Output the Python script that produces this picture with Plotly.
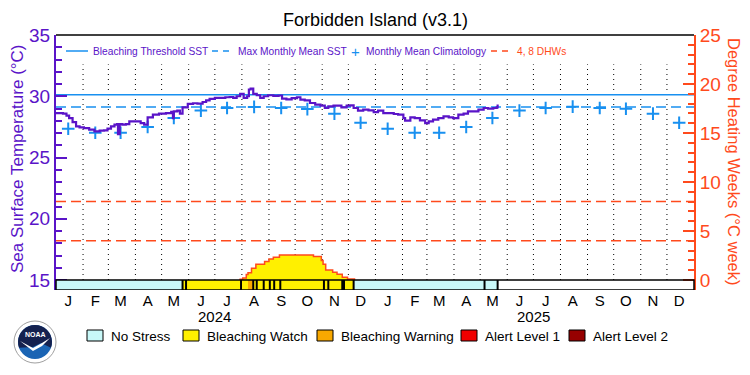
import math
import plotly.graph_objects as go

# ---------------- data ----------------
title_text = "Forbidden Island (v3.1)"

sst_dates = [
    "2024-01-01", "2024-01-09", "2024-01-13", "2024-01-16", "2024-01-20", "2024-01-24", "2024-01-28",
    "2024-02-02", "2024-02-08", "2024-02-14", "2024-02-20", "2024-02-25", "2024-02-29",
    "2024-03-04", "2024-03-08", "2024-03-11", "2024-03-12", "2024-03-14", "2024-03-17", "2024-03-21", "2024-03-25",
    "2024-04-02", "2024-04-07", "2024-04-11", "2024-04-15", "2024-04-21", "2024-04-28",
    "2024-05-06", "2024-05-12", "2024-05-14", "2024-05-15", "2024-05-19", "2024-05-22", "2024-05-25", "2024-05-31",
    "2024-06-06", "2024-06-11", "2024-06-17", "2024-06-21", "2024-06-25",
    "2024-07-01", "2024-07-07", "2024-07-13", "2024-07-18", "2024-07-22", "2024-07-26", "2024-07-30",
    "2024-08-03", "2024-08-07", "2024-08-09", "2024-08-11", "2024-08-14", "2024-08-18", "2024-08-22", "2024-08-26", "2024-08-31",
    "2024-09-06", "2024-09-12", "2024-09-16", "2024-09-21", "2024-09-27",
    "2024-10-03", "2024-10-07", "2024-10-12", "2024-10-18", "2024-10-24", "2024-10-30",
    "2024-11-04", "2024-11-08", "2024-11-14", "2024-11-19", "2024-11-23", "2024-11-29",
    "2024-12-03", "2024-12-07", "2024-12-12", "2024-12-18", "2024-12-24", "2024-12-30",
    "2025-01-04", "2025-01-10", "2025-01-16", "2025-01-22", "2025-01-27",
    "2025-02-02", "2025-02-04", "2025-02-10", "2025-02-15", "2025-02-21", "2025-02-27",
    "2025-03-03", "2025-03-08", "2025-03-14", "2025-03-20", "2025-03-26", "2025-03-31",
    "2025-04-06", "2025-04-12", "2025-04-17", "2025-04-23", "2025-04-29",
    "2025-05-05", "2025-05-10", "2025-05-16", "2025-05-20", "2025-05-21",
]
sst_values = [
    28.63, 28.58, 28.42, 28.22, 27.89, 27.54, 27.46,
    27.40, 27.27, 27.13, 27.19, 27.21, 27.35,
    27.54, 27.68, 27.73, 26.91, 27.73, 27.68, 27.73, 27.95,
    27.95, 27.81, 27.68, 28.28, 28.50, 28.58,
    28.63, 28.72, 28.22, 28.77, 28.82, 28.58, 29.10, 29.37,
    29.43, 29.40, 29.53, 29.67, 29.78,
    29.86, 29.86, 29.92, 29.94, 29.86, 30.00, 30.19,
    29.86, 30.00, 30.55, 30.63, 30.19, 30.08, 29.86, 30.00, 30.08,
    30.03, 30.06, 29.81, 29.75, 29.84,
    29.92, 29.73, 29.67, 29.45, 29.32, 29.24,
    29.04, 29.18, 29.24, 29.24, 29.10, 29.24,
    29.26, 29.04, 28.83, 28.91, 28.85, 28.71,
    28.83, 28.63, 28.63, 28.55, 28.50,
    28.22, 28.01, 28.28, 28.22, 28.03, 27.81,
    27.95, 28.09, 28.22, 28.36, 28.28, 28.22,
    28.50, 28.58, 28.77, 28.77, 28.91,
    29.04, 28.99, 29.04, 29.10, 29.32,
]

clim_dates = [
    "2024-01-15", "2024-02-15", "2024-03-15", "2024-04-15", "2024-05-15", "2024-06-15",
    "2024-07-15", "2024-08-15", "2024-09-15", "2024-10-15", "2024-11-15", "2024-12-15",
    "2025-01-15", "2025-02-15", "2025-03-15", "2025-04-15", "2025-05-15", "2025-06-15",
    "2025-07-15", "2025-08-15", "2025-09-15", "2025-10-15", "2025-11-15", "2025-12-15",
]
clim_values = [27.35, 27.02, 27.02, 27.49, 28.22, 28.83, 29.04, 29.13, 29.04, 28.95, 28.58, 27.84,
               27.35, 27.02, 27.02, 27.49, 28.22, 28.83, 29.04, 29.15, 29.04, 28.98, 28.58, 27.84]

mmm_value = 29.12
bleaching_threshold = 30.12
dhw_levels = [4, 8]

dhw_dates = ["2024-07-29", "2024-07-30", "2024-08-02", "2024-08-06", "2024-08-08", "2024-08-12",
             "2024-08-17", "2024-08-27", "2024-09-01", "2024-09-06", "2024-09-13", "2024-10-22",
             "2024-10-31", "2024-11-02", "2024-11-05", "2024-11-13", "2024-11-18", "2024-11-24",
             "2024-11-30", "2024-12-08"]
dhw_values = [0.0, 0.07, 0.2, 0.55, 0.75, 1.2,
              1.6, 1.88, 2.15, 2.32, 2.56, 2.39,
              2.0, 1.6, 1.02, 0.78, 0.58, 0.28,
              0.1, 0.0]

# stress level segments: 0 no stress, 1 watch, 2 warning
stress_starts = ["2024-01-01", "2024-05-25", "2024-08-08", "2024-08-14", "2024-12-07"]
stress_ends = ["2024-05-25", "2024-08-08", "2024-08-14", "2024-12-07", "2025-05-21"]
stress_levels = [0, 1, 2, 1, 0]
stress_marks = ["2024-05-25", "2024-05-29", "2024-07-31", "2024-08-14", "2024-08-18", "2024-08-26",
                "2024-09-02", "2024-09-07", "2024-09-14", "2024-11-03", "2024-11-08", "2024-11-24",
                "2024-11-26", "2024-12-07", "2025-05-06", "2025-05-21"]

month_letters = ["J", "F", "M", "A", "M", "J", "J", "A", "S", "O", "N", "D"] * 2
month_mid = clim_dates
month_starts = ["2024-%02d-01" % m for m in range(2, 13)] + ["2025-%02d-01" % m for m in range(1, 13)]
year_labels = ["2024", "2025"]
year_centers = ["2024-07-01", "2025-07-01"]

stress_names = ["No Stress", "Bleaching Watch", "Bleaching Warning", "Alert Level 1", "Alert Level 2"]
stress_colors = ["#c8f8f8", "#fff000", "#f8a800", "#f00000", "#960000"]

# ---------------- style ----------------
PURPLE = "#5a14c8"
BLUE = "#1890f0"
ORANGE = "#ff4a1c"
FONT = "Liberation Sans, Arial, sans-serif"

W, H = 750, 375
L, R, T, B = 56, 694, 35, 290
Y_RANGE = [14.184, 35.0]
Y2_RANGE = [-1.0204, 25.0]
X_RANGE = ["2024-01-01", "2026-01-01"]


def px(x):
    return (x - L) / (R - L)


def py(y):
    return (B - y) / (B - T)


def ann(text, x, y, size, color, xanchor="center", xref="paper", angle=0, family=FONT):
    return dict(text=text, xref=xref, yref="paper", x=x, y=y, xanchor=xanchor, yanchor="middle",
                textangle=angle, showarrow=False, font=dict(family=family, size=size, color=color))


fig = go.Figure()

# DHW area (right axis)
fig.add_trace(go.Scatter(x=dhw_dates, y=dhw_values, yaxis="y2", mode="lines",
                         line=dict(color=ORANGE, width=1.5, shape="hv"),
                         fill="tozeroy", fillcolor="#fff000", hoverinfo="skip", showlegend=False))
# DHW reference lines
for lvl in dhw_levels:
    fig.add_trace(go.Scatter(x=X_RANGE, y=[lvl, lvl], yaxis="y2", mode="lines",
                             line=dict(color=ORANGE, width=1.5, dash="10px,5px"),
                             hoverinfo="skip", showlegend=False))

# Bleaching threshold and MMM
fig.add_trace(go.Scatter(x=X_RANGE, y=[bleaching_threshold] * 2, mode="lines",
                         line=dict(color=BLUE, width=1.6), showlegend=False))
fig.add_trace(go.Scatter(x=X_RANGE, y=[mmm_value] * 2, mode="lines",
                         line=dict(color=BLUE, width=1.6, dash="10px,5px"), showlegend=False))
# Climatology crosses
fig.add_trace(go.Scatter(x=clim_dates, y=clim_values, mode="markers",
                         marker=dict(symbol="cross-thin", size=9, line=dict(color=BLUE, width=2)),
                         showlegend=False))
# SST
fig.add_trace(go.Scatter(x=sst_dates, y=sst_values, mode="lines",
                         line=dict(color=PURPLE, width=2.2, shape="hv"), showlegend=False))

shapes = []
# vertical dotted month gridlines
for d in month_starts:
    shapes.append(dict(type="line", xref="x", yref="y", x0=d, x1=d, y0=15, y1=32.6,
                       line=dict(color="black", width=1, dash="1px,4px"), layer="below"))
# stress bar segments
for s, e, lv in zip(stress_starts, stress_ends, stress_levels):
    shapes.append(dict(type="rect", xref="x", yref="y", x0=s, x1=e, y0=Y_RANGE[0], y1=15,
                       fillcolor=stress_colors[lv], line=dict(width=0)))
for d in stress_marks:
    shapes.append(dict(type="line", xref="x", yref="y", x0=d, x1=d, y0=Y_RANGE[0], y1=15,
                       line=dict(color="black", width=2)))
# stress bar outline
shapes.append(dict(type="rect", xref="paper", yref="y", x0=0, x1=1, y0=Y_RANGE[0], y1=15,
                   line=dict(color="black", width=1.5)))
# top frame
shapes.append(dict(type="line", xref="paper", yref="paper", x0=0, x1=1, y0=1, y1=1,
                   line=dict(color="black", width=1.5)))

annotations = []
annotations.append(ann(title_text, px(375), py(20), 18, "black"))
annotations.append(ann("Sea Surface Temperature (°C)", px(17), py(159), 17, PURPLE, angle=-90))
annotations.append(ann("Degree Heating Weeks (°C week)", px(734), py(161), 16.5, ORANGE, angle=90))
for yl, yc in zip(year_labels, year_centers):
    annotations.append(ann(yl, yc, py(316), 15, "black", xref="x"))

# top legend
LEG_Y = py(51)
LEG_FS = 10.2
shapes.append(dict(type="line", xref="paper", yref="paper", x0=px(66), x1=px(88), y0=LEG_Y, y1=LEG_Y,
                   line=dict(color=BLUE, width=1.5)))
annotations.append(ann("Bleaching Threshold SST", px(91), LEG_Y, LEG_FS, PURPLE, xanchor="left"))
shapes.append(dict(type="line", xref="paper", yref="paper", x0=px(212), x1=px(231), y0=LEG_Y, y1=LEG_Y,
                   line=dict(color=BLUE, width=1.5, dash="6px,5px")))
annotations.append(ann("Max Monthly Mean SST", px(236), LEG_Y, LEG_FS, PURPLE, xanchor="left"))
annotations.append(ann("+", px(355), LEG_Y, 15, BLUE))
annotations.append(ann("Monthly Mean Climatology", px(364), LEG_Y, LEG_FS, PURPLE, xanchor="left"))
shapes.append(dict(type="line", xref="paper", yref="paper", x0=px(491), x1=px(509), y0=LEG_Y, y1=LEG_Y,
                   line=dict(color=ORANGE, width=1.5, dash="6px,5px")))
annotations.append(ann("4, 8 DHWs", px(515), LEG_Y, LEG_FS, ORANGE, xanchor="left"))

# bottom legend
box_x = [87, 183, 317, 461, 569]
for bx, name, col in zip(box_x, stress_names, stress_colors):
    shapes.append(dict(type="rect", xref="paper", yref="paper", x0=px(bx), x1=px(bx + 16),
                       y0=py(341), y1=py(330), fillcolor=col, line=dict(color="black", width=1)))
    annotations.append(ann(name, px(bx + 22), py(336), 13.5, "black", xanchor="left"))

# NOAA logo (simple drawing)
cx, cy, r_out, r_in = 35, 342, 21, 17
shapes.append(dict(type="circle", xref="paper", yref="paper", x0=px(cx - r_out), x1=px(cx + r_out),
                   y0=py(cy + r_out), y1=py(cy - r_out), fillcolor="white",
                   line=dict(color="#a0a0a0", width=1)))
shapes.append(dict(type="circle", xref="paper", yref="paper", x0=px(cx - r_in), x1=px(cx + r_in),
                   y0=py(cy + r_in), y1=py(cy - r_in), fillcolor="#1a64b4", line=dict(width=0)))
pts = []
for k in range(0, 21):
    a = math.radians(200 - k * 11)
    pts.append((cx + r_in * math.cos(a), cy - r_in * math.sin(a)))
path = "M " + " L ".join("%.4f,%.4f" % (px(x), py(y)) for x, y in pts)
path += " L %.4f,%.4f L %.4f,%.4f Z" % (px(cx + 6), py(cy + 1), px(cx - 2), py(cy + 5))
shapes.append(dict(type="path", xref="paper", yref="paper", path=path, fillcolor="#14214f",
                   line=dict(width=0)))
gull = [(cx - 15, cy - 1), (cx - 2, cy + 6), (cx + 7, cy + 1), (cx + 15, cy - 4),
        (cx + 7, cy + 4), (cx - 2, cy + 9), (cx - 15, cy - 1)]
gpath = "M " + " L ".join("%.4f,%.4f" % (px(x), py(y)) for x, y in gull) + " Z"
shapes.append(dict(type="path", xref="paper", yref="paper", path=gpath, fillcolor="white",
                   line=dict(width=0)))
annotations.append(ann("<b>NOAA</b>", px(cx), py(cy - 8), 7, "white"))

fig.update_layout(
    width=W, height=H,
    margin=dict(l=L, r=W - R, t=T, b=H - B, pad=0, autoexpand=False),
    paper_bgcolor="white", plot_bgcolor="white",
    font=dict(family=FONT),
    showlegend=False,
    hovermode=False,
    shapes=shapes,
    annotations=annotations,
    xaxis=dict(type="date", range=X_RANGE, tickvals=month_mid, ticktext=month_letters,
               ticks="", showgrid=False, zeroline=False, showline=False, automargin=False,
               tickfont=dict(family=FONT, size=15, color="black"), fixedrange=True),
    yaxis=dict(range=Y_RANGE, tickvals=[15, 20, 25, 30, 35], ticks="inside", ticklen=11,
               tickwidth=2, tickcolor=PURPLE, showline=True, linecolor=PURPLE, linewidth=2,
               showgrid=False, zeroline=False, automargin=False, fixedrange=True,
               tickfont=dict(family=FONT, size=19, color=PURPLE),
               minor=dict(tickvals=list(range(15, 36)), ticks="inside", ticklen=6,
                          tickwidth=2, tickcolor=PURPLE, showgrid=False)),
    yaxis2=dict(range=Y2_RANGE, overlaying="y", side="right", tickvals=[0, 5, 10, 15, 20, 25],
                ticks="inside", ticklen=11, tickwidth=2, tickcolor=ORANGE, showline=True,
                linecolor=ORANGE, linewidth=2, showgrid=False, zeroline=False, automargin=False,
                fixedrange=True,
                tickfont=dict(family=FONT, size=19, color=ORANGE),
                minor=dict(tickvals=list(range(0, 26)), ticks="inside", ticklen=6,
                           tickwidth=2, tickcolor=ORANGE, showgrid=False)),
)

fig.write_html("out.html", config={"displayModeBar": False},
               post_script="document.body.style.margin='0px';")
